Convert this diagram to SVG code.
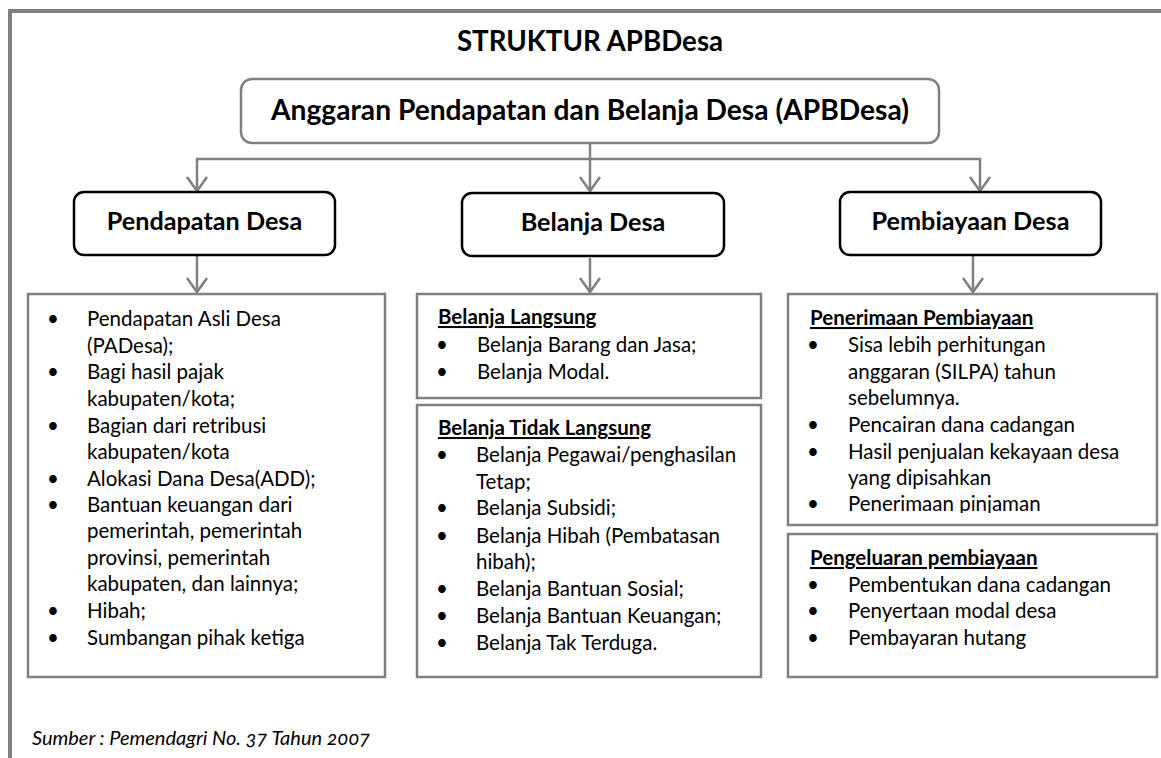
<svg xmlns="http://www.w3.org/2000/svg" width="1161" height="758" viewBox="0 0 1161 758">
<style>
.t{font-family:Lato,"Liberation Sans",sans-serif;fill:#000}
.b{font-weight:bold}
.body{font-size:20.5px}
.hd{font-size:20.5px;font-weight:bold;text-decoration:underline}
.l2{font-size:25.2px;font-weight:bold}
.gbox{fill:#fff;stroke:#808080;stroke-width:2.5}
.kbox{fill:#fff;stroke:#000;stroke-width:2.5}
.conn{fill:none;stroke:#808080;stroke-width:2.5}
</style>
<defs>
<marker id="arr" markerUnits="userSpaceOnUse" viewBox="-16 -12 18 24" refX="0" refY="0" markerWidth="18" markerHeight="24" orient="auto" overflow="visible">
<path d="M-14,-10 L0,0 L-14,10" fill="none" stroke="#808080" stroke-width="2.5"/>
</marker>
<clipPath id="clipPen"><rect x="788" y="294" width="369" height="219"/></clipPath>
</defs>
<rect x="0" y="0" width="1161" height="758" fill="#fff"/>
<path d="M10,758 V11 H1161" fill="none" stroke="#808080" stroke-width="4"/>
<text class="t b" x="590" y="51" font-size="27.7" text-anchor="middle">STRUKTUR APBDesa</text>

<g id="connectors">
<path class="conn" d="M590,143 V191" marker-end="url(#arr)"/>
<path class="conn" d="M590,159 H197 V191" marker-end="url(#arr)"/>
<path class="conn" d="M590,159 H980 V191" marker-end="url(#arr)"/>
<path class="conn" d="M197,256 V292" marker-end="url(#arr)"/>
<path class="conn" d="M590,258 V292" marker-end="url(#arr)"/>
<path class="conn" d="M973,256 V292" marker-end="url(#arr)"/>
</g>

<g id="apbdesa">
<rect class="gbox" x="241" y="79" width="698" height="64" rx="11"/>
<text class="t b" x="590" y="119.5" font-size="28.2" text-anchor="middle">Anggaran Pendapatan dan Belanja Desa (APBDesa)</text>
</g>

<g id="pendapatan">
<rect class="kbox" x="74" y="192" width="261" height="63" rx="10"/>
<text class="t l2" x="204.5" y="230" text-anchor="middle">Pendapatan Desa</text>
</g>
<g id="belanja">
<rect class="kbox" x="462" y="193" width="262" height="63" rx="10"/>
<text class="t l2" x="593" y="231" text-anchor="middle">Belanja Desa</text>
</g>
<g id="pembiayaan">
<rect class="kbox" x="840" y="192" width="261" height="63" rx="10"/>
<text class="t l2" x="970.5" y="230" text-anchor="middle">Pembiayaan Desa</text>
</g>

<g id="pendapatan-list">
<rect class="gbox" x="28" y="294" width="357" height="383"/>
<g class="t body">
<text x="53" y="326" text-anchor="middle">•</text><text x="87" y="326">Pendapatan Asli Desa</text>
<text x="87" y="353">(PADesa);</text>
<text x="53" y="379" text-anchor="middle">•</text><text x="87" y="379">Bagi hasil pajak</text>
<text x="87" y="406">kabupaten/kota;</text>
<text x="53" y="433" text-anchor="middle">•</text><text x="87" y="433">Bagian dari retribusi</text>
<text x="87" y="459">kabupaten/kota</text>
<text x="53" y="486" text-anchor="middle">•</text><text x="87" y="486">Alokasi Dana Desa(ADD);</text>
<text x="53" y="512" text-anchor="middle">•</text><text x="87" y="512">Bantuan keuangan dari</text>
<text x="87" y="538">pemerintah, pemerintah</text>
<text x="87" y="565">provinsi, pemerintah</text>
<text x="87" y="591">kabupaten, dan lainnya;</text>
<text x="53" y="618" text-anchor="middle">•</text><text x="87" y="618">Hibah;</text>
<text x="53" y="645" text-anchor="middle">•</text><text x="87" y="645">Sumbangan pihak ketiga</text>
</g>
</g>

<g id="belanja-langsung">
<rect class="gbox" x="417" y="294" width="344" height="104"/>
<g class="t body">
<text class="hd" x="438" y="324">Belanja Langsung</text>
<text x="442" y="352" text-anchor="middle">•</text><text x="477" y="352">Belanja Barang dan Jasa;</text>
<text x="442" y="379" text-anchor="middle">•</text><text x="477" y="379">Belanja Modal.</text>
</g>
</g>

<g id="belanja-tidak-langsung">
<rect class="gbox" x="417" y="405" width="344" height="272"/>
<g class="t body">
<text class="hd" x="438" y="435">Belanja Tidak Langsung</text>
<text x="442" y="462" text-anchor="middle">•</text><text x="476" y="462">Belanja Pegawai/penghasilan</text>
<text x="476" y="489">Tetap;</text>
<text x="442" y="515" text-anchor="middle">•</text><text x="476" y="515">Belanja Subsidi;</text>
<text x="442" y="543" text-anchor="middle">•</text><text x="476" y="543">Belanja Hibah (Pembatasan</text>
<text x="476" y="569">hibah);</text>
<text x="442" y="596" text-anchor="middle">•</text><text x="476" y="596">Belanja Bantuan Sosial;</text>
<text x="442" y="623" text-anchor="middle">•</text><text x="476" y="623">Belanja Bantuan Keuangan;</text>
<text x="442" y="650" text-anchor="middle">•</text><text x="476" y="650">Belanja Tak Terduga.</text>
</g>
</g>

<g id="penerimaan-pembiayaan">
<rect class="gbox" x="788" y="294" width="369" height="231"/>
<g class="t body" clip-path="url(#clipPen)">
<text class="hd" x="810" y="325">Penerimaan Pembiayaan</text>
<text x="813" y="352" text-anchor="middle">•</text><text x="848" y="352">Sisa lebih perhitungan</text>
<text x="848" y="379">anggaran (SILPA) tahun</text>
<text x="848" y="405">sebelumnya.</text>
<text x="813" y="432" text-anchor="middle">•</text><text x="848" y="432">Pencairan dana cadangan</text>
<text x="813" y="459" text-anchor="middle">•</text><text x="848" y="459">Hasil penjualan kekayaan desa</text>
<text x="848" y="485">yang dipisahkan</text>
<text x="813" y="511" text-anchor="middle">•</text><text x="848" y="511">Penerimaan pinjaman</text>
</g>
</g>

<g id="pengeluaran-pembiayaan">
<rect class="gbox" x="788" y="534" width="369" height="143"/>
<g class="t body">
<text class="hd" x="810" y="565">Pengeluaran pembiayaan</text>
<text x="813" y="592" text-anchor="middle">•</text><text x="848" y="592">Pembentukan dana cadangan</text>
<text x="813" y="618" text-anchor="middle">•</text><text x="848" y="618">Penyertaan modal desa</text>
<text x="813" y="645" text-anchor="middle">•</text><text x="848" y="645">Pembayaran hutang</text>
</g>
</g>

<text class="t" x="32" y="745" font-size="20" font-style="italic" style="font-variant-numeric:oldstyle-nums">Sumber : Pemendagri No. 37 Tahun 2007</text>
</svg>
